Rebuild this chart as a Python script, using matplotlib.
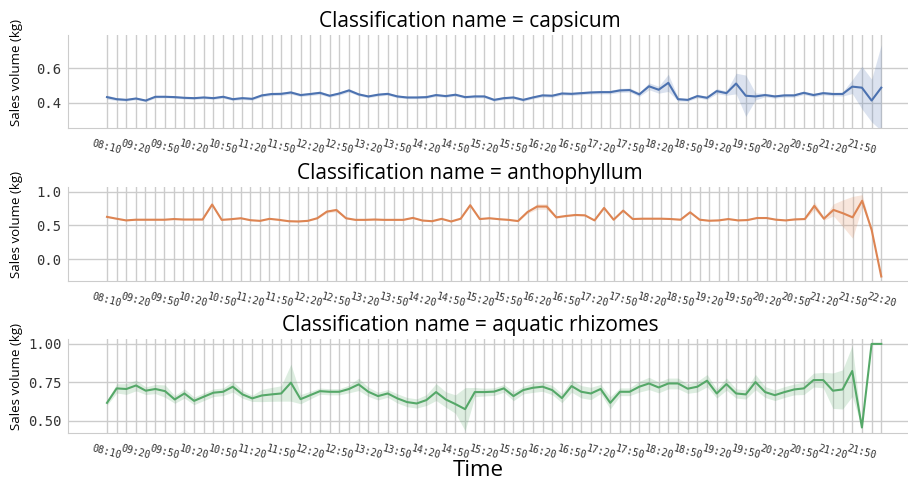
"""Sales volume per 10-minute slot for three vegetable classifications."""

import matplotlib
matplotlib.use("Agg")  # non-interactive backend
import matplotlib.pyplot as plt
import numpy as np

plt.rcParams["font.family"] = ["Open Sans", "DejaVu Sans"]

# time slots: one early sample at 08:10, then every 10 minutes from 09:00
times_cap = ["08:10"] + [f"{9 + m // 60:02d}:{m % 60:02d}" for m in range(0, 800, 10)]
times_ant = ["08:10"] + [f"{9 + m // 60:02d}:{m % 60:02d}" for m in range(0, 810, 10)]
times_aqu = ["08:10"] + [f"{9 + m // 60:02d}:{m % 60:02d}" for m in range(0, 800, 10)]

# mean sales volume (kg) per slot
capsicum = [
    0.432, 0.420, 0.416, 0.424, 0.412, 0.434, 0.434, 0.432, 0.428, 0.426,
    0.430, 0.426, 0.434, 0.420, 0.426, 0.422, 0.442, 0.450, 0.451, 0.459,
    0.444, 0.450, 0.457, 0.440, 0.453, 0.471, 0.448, 0.436, 0.446, 0.451,
    0.436, 0.430, 0.430, 0.432, 0.444, 0.438, 0.446, 0.432, 0.436, 0.436,
    0.416, 0.426, 0.430, 0.416, 0.430, 0.442, 0.440, 0.453, 0.451, 0.455,
    0.459, 0.461, 0.461, 0.471, 0.473, 0.448, 0.495, 0.475, 0.515, 0.420,
    0.416, 0.438, 0.428, 0.467, 0.455, 0.511, 0.440, 0.436, 0.444, 0.436,
    0.442, 0.442, 0.457, 0.444, 0.455, 0.450, 0.450, 0.493, 0.487, 0.412,
    0.487,
]
anthophyllum = [
    0.627, 0.600, 0.575, 0.585, 0.585, 0.585, 0.585, 0.595, 0.588, 0.588,
    0.588, 0.810, 0.583, 0.593, 0.607, 0.578, 0.568, 0.598, 0.583, 0.563,
    0.559, 0.568, 0.607, 0.705, 0.729, 0.607, 0.583, 0.583, 0.588, 0.583,
    0.583, 0.583, 0.612, 0.573, 0.563, 0.598, 0.559, 0.600, 0.800, 0.595,
    0.607, 0.593, 0.583, 0.565, 0.700, 0.780, 0.780, 0.620, 0.640, 0.655,
    0.650, 0.575, 0.760, 0.585, 0.720, 0.595, 0.600, 0.600, 0.600, 0.595,
    0.585, 0.695, 0.585, 0.570, 0.575, 0.595, 0.575, 0.580, 0.610, 0.610,
    0.585, 0.575, 0.590, 0.595, 0.790, 0.600, 0.730, 0.680, 0.620, 0.866,
    0.430, -0.256,
]
aquatic = [
    0.617, 0.711, 0.707, 0.730, 0.696, 0.707, 0.693, 0.639, 0.678, 0.630,
    0.657, 0.683, 0.689, 0.722, 0.672, 0.646, 0.665, 0.672, 0.678, 0.748,
    0.641, 0.667, 0.693, 0.689, 0.689, 0.707, 0.737, 0.689, 0.661, 0.678,
    0.646, 0.622, 0.613, 0.635, 0.687, 0.639, 0.609, 0.576, 0.687, 0.687,
    0.690, 0.711, 0.661, 0.700, 0.715, 0.722, 0.700, 0.648, 0.726, 0.689,
    0.678, 0.707, 0.617, 0.689, 0.689, 0.722, 0.743, 0.717, 0.743, 0.743,
    0.709, 0.722, 0.761, 0.678, 0.739, 0.678, 0.672, 0.752, 0.687, 0.667,
    0.687, 0.704, 0.711, 0.765, 0.765, 0.696, 0.704, 0.824, 0.457, 1.000,
    1.000,
]

# half-width of the 95% confidence band per slot
capsicum_ci = [
    0.012, 0.008, 0.007, 0.007, 0.007, 0.007, 0.006, 0.006, 0.007, 0.007,
    0.007, 0.007, 0.008, 0.008, 0.008, 0.008, 0.008, 0.009, 0.009, 0.010,
    0.008, 0.009, 0.010, 0.008, 0.009, 0.010, 0.008, 0.007, 0.008, 0.008,
    0.008, 0.007, 0.007, 0.007, 0.008, 0.007, 0.008, 0.007, 0.008, 0.008,
    0.008, 0.008, 0.008, 0.008, 0.008, 0.009, 0.009, 0.009, 0.009, 0.009,
    0.009, 0.010, 0.010, 0.012, 0.012, 0.012, 0.020, 0.020, 0.050, 0.010,
    0.008, 0.010, 0.010, 0.015, 0.012, 0.060, 0.120, 0.020, 0.010, 0.010,
    0.010, 0.010, 0.010, 0.010, 0.010, 0.010, 0.012, 0.040, 0.124, 0.124,
    0.250,
]
anthophyllum_ci = [
    0.010, 0.008, 0.008, 0.008, 0.008, 0.008, 0.008, 0.008, 0.008, 0.008,
    0.008, 0.015, 0.008, 0.008, 0.010, 0.008, 0.008, 0.008, 0.008, 0.008,
    0.008, 0.008, 0.010, 0.020, 0.025, 0.012, 0.008, 0.008, 0.008, 0.008,
    0.008, 0.008, 0.010, 0.008, 0.008, 0.010, 0.008, 0.008, 0.015, 0.008,
    0.008, 0.008, 0.008, 0.008, 0.020, 0.040, 0.040, 0.015, 0.010, 0.010,
    0.010, 0.008, 0.015, 0.008, 0.012, 0.008, 0.008, 0.008, 0.008, 0.008,
    0.008, 0.012, 0.008, 0.008, 0.008, 0.008, 0.008, 0.008, 0.008, 0.008,
    0.008, 0.008, 0.010, 0.010, 0.060, 0.020, 0.090, 0.200, 0.310, 0.090,
    0.000, 0.000,
]
aquatic_ci = [
    0.015, 0.030, 0.035, 0.035, 0.025, 0.030, 0.040, 0.025, 0.030, 0.025,
    0.025, 0.025, 0.025, 0.035, 0.025, 0.020, 0.040, 0.045, 0.050, 0.120,
    0.030, 0.025, 0.020, 0.020, 0.020, 0.025, 0.040, 0.030, 0.025, 0.025,
    0.030, 0.030, 0.030, 0.035, 0.055, 0.050, 0.060, 0.140, 0.030, 0.025,
    0.025, 0.025, 0.030, 0.025, 0.030, 0.030, 0.030, 0.030, 0.040, 0.040,
    0.040, 0.030, 0.040, 0.025, 0.025, 0.035, 0.040, 0.035, 0.035, 0.035,
    0.030, 0.035, 0.040, 0.030, 0.040, 0.030, 0.030, 0.050, 0.035, 0.035,
    0.035, 0.035, 0.040, 0.045, 0.050, 0.115, 0.127, 0.165, 0.000, 0.000,
    0.000,
]

names = ["capsicum", "anthophyllum", "aquatic rhizomes"]
colors = ["#4C72B0", "#DD8452", "#55A868"]

panels = [
    (times_cap, capsicum, capsicum_ci, (0.251, 0.794)),
    (times_ant, anthophyllum, anthophyllum_ci, (-0.326, 1.065)),
    (times_aqu, aquatic, aquatic_ci, (0.42, 1.03)),
]

fig = plt.figure(figsize=(9.08, 4.84), dpi=100)
# axes boxes in figure fractions (right edge runs past the canvas)
boxes = [
    [0.0752, 0.735, 0.938, 0.193],
    [0.0752, 0.419, 0.938, 0.194],
    [0.0752, 0.105, 0.938, 0.194],
]

for (times, mean, ci, ylim), name, color, box in zip(panels, names, colors, boxes):
    ax = fig.add_axes(box)
    x = np.arange(len(times))
    mean = np.array(mean)
    ci = np.array(ci)

    ax.fill_between(x, mean - ci, mean + ci, color=color, alpha=0.2, linewidth=0)
    ax.plot(x, mean, color=color, linewidth=1.5)

    ax.set_xticks(x)
    ax.set_xticklabels([t if i % 3 == 0 else "" for i, t in enumerate(times)],
                       rotation=-15, fontsize=7.2, family="DejaVu Sans Mono")
    for lbl in ax.get_yticklabels():
        lbl.set_family("DejaVu Sans Mono")
    ax.set_xlim(-0.05 * x[-1], 1.05 * x[-1])
    ax.set_ylim(*ylim)
    for lbl in ax.get_yticklabels():
        lbl.set_family("DejaVu Sans Mono")
        lbl.set_fontsize(10)

    ax.grid(True, color="#cccccc", linewidth=1)
    ax.set_axisbelow(True)
    ax.tick_params(length=0, colors="#333333")
    ax.tick_params(axis="x", pad=7)
    ax.tick_params(axis="y", pad=5)
    for side in ("top", "right"):
        ax.spines[side].set_visible(False)
    for side in ("left", "bottom"):
        ax.spines[side].set_color("#cccccc")

    ax.set_ylabel("Sales volume (kg)", fontsize=9.5)
    ax.yaxis.set_label_coords(-0.053, 0.6)
    ax.set_title(f"Classification name = {name}", fontsize=15, x=0.4716)

fig.text(478 / 908, 1 - 470 / 484, "Time", fontsize=16, ha="center", va="center")

plt.savefig("out.png", dpi=100)
plt.close()
